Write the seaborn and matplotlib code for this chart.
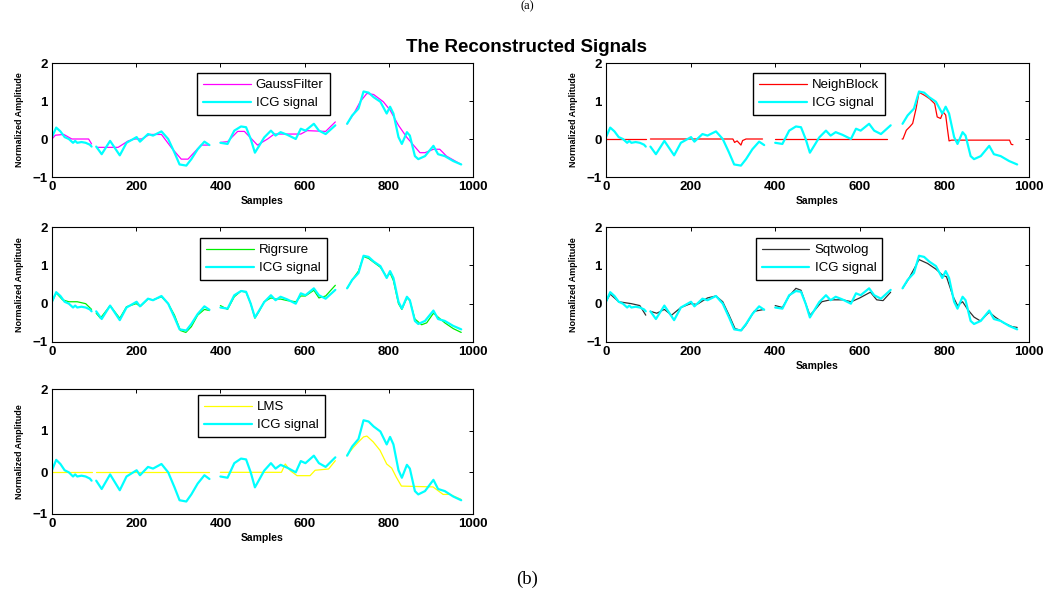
import numpy as np
import pandas as pd
import matplotlib
matplotlib.use("Agg")
import matplotlib.pyplot as plt
import seaborn as sns

NAN = np.nan

# ---------------- data (NaN separates recorded segments) ----------------
icg_x = [0, 10, 20, 30, 40, 50, 55, 60, 70, 80, 90, 94, NAN,
         105, 118, 138, 161, 177, 201, 209, 228, 240, 260, 276, 291, 303, 319, 331, 346, 362, 374, NAN,
         400, 417, 433, 449, 461, 472, 482, 492, 504, 520, 531, 543, 559, 579, 591, 602, 622, 634, 650, 673, NAN,
         701, 713, 728, 740, 752, 764, 780, 795, 803, 811, 823, 831, 843, 850, 862, 870, 886, 906, 917, 933, 953, 972]
icg_y = [0.05, 0.30, 0.20, 0.05, 0.00, -0.10, -0.05, -0.10, -0.08, -0.10, -0.15, -0.20, NAN,
         -0.20, -0.40, -0.05, -0.43, -0.10, 0.05, -0.07, 0.13, 0.09, 0.20, 0.00, -0.36, -0.67, -0.70, -0.53, -0.27, -0.07, -0.16, NAN,
         -0.10, -0.13, 0.22, 0.33, 0.31, 0.00, -0.36, -0.18, 0.04, 0.22, 0.09, 0.18, 0.11, 0.00, 0.27, 0.22, 0.40, 0.22, 0.13, 0.36, NAN,
         0.40, 0.62, 0.80, 1.25, 1.22, 1.10, 0.98, 0.67, 0.85, 0.67, 0.05, -0.13, 0.18, 0.09, -0.45, -0.53, -0.45, -0.18, -0.40, -0.45, -0.58, -0.67]

gauss_x = [0, 8, 28, 47, 87, 94, NAN,
           106, 157, 181, 197, 213, 232, 260, 283, 307, 323, 354, 374, NAN,
           400, 417, 441, 457, 488, 512, 528, 591, 606, 650, 673, NAN,
           701, 717, 732, 748, 764, 787, 803, 823, 843, 874, 886, 906, 921, 937, 972]
gauss_y = [0.00, 0.10, 0.12, 0.00, 0.00, -0.13, NAN,
           -0.22, -0.22, -0.05, 0.00, 0.00, 0.12, 0.12, -0.22, -0.53, -0.53, -0.16, -0.16, NAN,
           -0.09, -0.07, 0.20, 0.20, -0.16, 0.00, 0.13, 0.13, 0.22, 0.20, 0.45, NAN,
           0.40, 0.67, 0.98, 1.20, 1.17, 0.98, 0.76, 0.36, 0.04, -0.36, -0.36, -0.27, -0.27, -0.45, -0.67]

neigh_x = [0, 94, NAN,
           105, 300, 304, 310, 319, 323, 331, 370, NAN,
           400, 665, NAN,
           700, 702, 710, 718, 725, 733, 740, 753, 765, 777, 783, 791, 797, 803, 807, 811, 817, 954, 958, 962]
neigh_y = [0.00, 0.00, NAN,
           0.00, 0.00, -0.09, -0.05, -0.16, -0.04, 0.00, 0.00, NAN,
           0.00, 0.00, NAN,
           0.00, 0.00, 0.23, 0.32, 0.41, 0.80, 1.23, 1.15, 1.06, 0.93, 0.58, 0.54, 0.71, 0.63, 0.28, -0.05, -0.03, -0.03, -0.14, -0.15]

rig_x = [0, 10, 25, 40, 60, 80, 94, NAN,
         105, 115, 138, 161, 177, 200, 210, 228, 240, 260, 276, 291, 305, 318, 331, 346, 362, 374, NAN,
         400, 417, 433, 449, 461, 472, 482, 492, 504, 520, 531, 543, 559, 579, 591, 602, 622, 634, 650, 673, NAN,
         701, 713, 728, 740, 752, 764, 780, 795, 803, 811, 823, 831, 843, 850, 862, 878, 890, 906, 917, 933, 953, 972]
rig_y = [0.05, 0.28, 0.10, 0.05, 0.05, 0.00, -0.15, NAN,
         -0.25, -0.38, -0.05, -0.38, -0.08, 0.00, -0.07, 0.12, 0.10, 0.18, 0.00, -0.30, -0.70, -0.75, -0.60, -0.30, -0.15, -0.18, NAN,
         -0.05, -0.15, 0.18, 0.33, 0.30, 0.00, -0.38, -0.20, 0.05, 0.15, 0.12, 0.12, 0.08, 0.05, 0.20, 0.20, 0.35, 0.15, 0.20, 0.48, NAN,
         0.40, 0.62, 0.85, 1.23, 1.18, 1.08, 0.95, 0.70, 0.80, 0.60, 0.00, -0.15, 0.15, 0.08, -0.40, -0.55, -0.50, -0.25, -0.35, -0.50, -0.65, -0.75]

sqt_x = [0, 10, 30, 60, 80, 94, NAN,
         105, 120, 138, 155, 177, 200, 215, 240, 260, 276, 291, 305, 320, 331, 350, 374, NAN,
         400, 417, 433, 449, 461, 472, 482, 495, 510, 530, 560, 580, 600, 625, 640, 655, 673, NAN,
         701, 713, 728, 740, 760, 780, 795, 805, 820, 831, 843, 855, 870, 885, 906, 920, 940, 960, 972]
sqt_y = [0.05, 0.25, 0.05, 0.00, -0.05, -0.30, NAN,
         -0.20, -0.25, -0.15, -0.30, -0.10, 0.00, -0.02, 0.15, 0.20, 0.05, -0.30, -0.65, -0.70, -0.55, -0.20, -0.15, NAN,
         -0.05, -0.10, 0.20, 0.40, 0.35, 0.00, -0.30, -0.15, 0.05, 0.10, 0.10, 0.05, 0.15, 0.30, 0.10, 0.08, 0.30, NAN,
         0.40, 0.60, 0.90, 1.15, 1.05, 0.90, 0.75, 0.70, 0.20, -0.05, 0.05, -0.15, -0.35, -0.45, -0.22, -0.35, -0.50, -0.60, -0.62]

lms_x = [0, 94, NAN,
         105, 374, NAN,
         400, 545, 554, 566, 582, 613, 625, 657, 673, NAN,
         700, 716, 728, 740, 748, 763, 779, 795, 807, 818, 830, 905, 929, 945, 972]
lms_y = [0.00, 0.00, NAN,
         0.00, 0.00, NAN,
         0.00, 0.00, 0.20, 0.04, -0.08, -0.08, 0.05, 0.08, 0.28, NAN,
         0.40, 0.60, 0.73, 0.85, 0.87, 0.73, 0.53, 0.20, 0.10, -0.12, -0.33, -0.35, -0.53, -0.53, -0.65]

method_names = ["GaussFilter", "NeighBlock", "Rigrsure", "Sqtwolog", "LMS"]
method_colors = ["#ff00ff", "#ff0000", "#00ee00", "#303030", "#ffff00"]
method_data = [(gauss_x, gauss_y), (neigh_x, neigh_y), (rig_x, rig_y), (sqt_x, sqt_y), (lms_x, lms_y)]

x_ticks = [0, 200, 400, 600, 800, 1000]
y_ticks = [-1, 0, 1, 2]

# ---------------- style ----------------
sns.set_theme(style="white")
plt.rcParams["font.family"] = ["Liberation Sans", "DejaVu Sans"]
plt.rcParams["text.color"] = "black"
plt.rcParams["axes.labelcolor"] = "black"
plt.rcParams["xtick.color"] = "black"
plt.rcParams["ytick.color"] = "black"


def segments(xs, ys):
    df = pd.DataFrame({"x": xs, "y": ys})
    df["seg"] = df["x"].isna().cumsum()
    df = df.dropna()
    return [g for _, g in df.groupby("seg")]


W, H = 1050, 596
fig = plt.figure(figsize=(W / 100, H / 100), dpi=100)

def rect(x0, y0, x1, y1):
    return [x0 / W, 1 - y1 / H, (x1 - x0) / W, (y1 - y0) / H]

rects = [rect(52, 63, 473, 177), rect(606, 63, 1029, 177),
         rect(52, 227, 473, 342), rect(606, 227, 1029, 342),
         rect(52, 389, 473, 514)]
leg_anchor = [(0.502, 0.912), (0.504, 0.912), (0.502, 0.904), (0.504, 0.904), (0.498, 0.952)]
has_xlabel = [True, True, False, True, True]

for i, (name, col, (mx, my)) in enumerate(zip(method_names, method_colors, method_data)):
    ax = fig.add_axes(rects[i])
    for k, seg in enumerate(segments(mx, my)):
        sns.lineplot(x=seg["x"].values, y=seg["y"].values, ax=ax, color=col, lw=0.9,
                     label=name if k == 0 else "_nolegend_", legend=False, sort=False)
    for k, seg in enumerate(segments(icg_x, icg_y)):
        sns.lineplot(x=seg["x"].values, y=seg["y"].values, ax=ax, color="#00ffff", lw=1.6,
                     label="ICG signal" if k == 0 else "_nolegend_", legend=False, sort=False)
    ax.set_xlim(0, 1000)
    ax.set_ylim(-1, 2)
    ax.set_xticks(x_ticks)
    ax.set_yticks(y_ticks)
    ax.tick_params(direction="in", length=3, width=0.7, top=True, right=True,
                   labelsize=9.5, pad=3, color="black", labelcolor="black")
    for lab in ax.get_xticklabels() + ax.get_yticklabels():
        lab.set_fontweight("bold")
    for sp in ax.spines.values():
        sp.set_color("black")
        sp.set_linewidth(0.8)
    ax.set_ylabel("Normalized Amplitude", fontsize=6.5, fontweight="bold", labelpad=6,
                  color="black")
    if has_xlabel[i]:
        ax.set_xlabel("Samples", fontsize=7.5, fontweight="bold", labelpad=2, color="black")
    else:
        ax.set_xlabel("")
    leg = ax.legend(loc="upper center", bbox_to_anchor=leg_anchor[i], borderaxespad=0,
                    fontsize=9.5, handlelength=3.6, handletextpad=0.4, borderpad=0.45,
                    labelspacing=0.45, fancybox=False, frameon=True, framealpha=1,
                    edgecolor="black", labelcolor="black")
    leg.get_frame().set_linewidth(1.0)

fig.text(527 / W, 1 - 47 / H, "The Reconstructed Signals", ha="center", va="center",
         fontsize=13.5, fontweight="bold", color="black")
fig.text(527 / W, 0.999, "(a)", ha="center", va="top", fontsize=9, color="black",
         family=["Liberation Serif", "DejaVu Serif"])
fig.text(527 / W, 1 - 579 / H, "(b)", ha="center", va="center", fontsize=13.5, color="black",
         family=["Liberation Serif", "DejaVu Serif"])

fig.savefig("out.png", dpi=100, facecolor="white")
